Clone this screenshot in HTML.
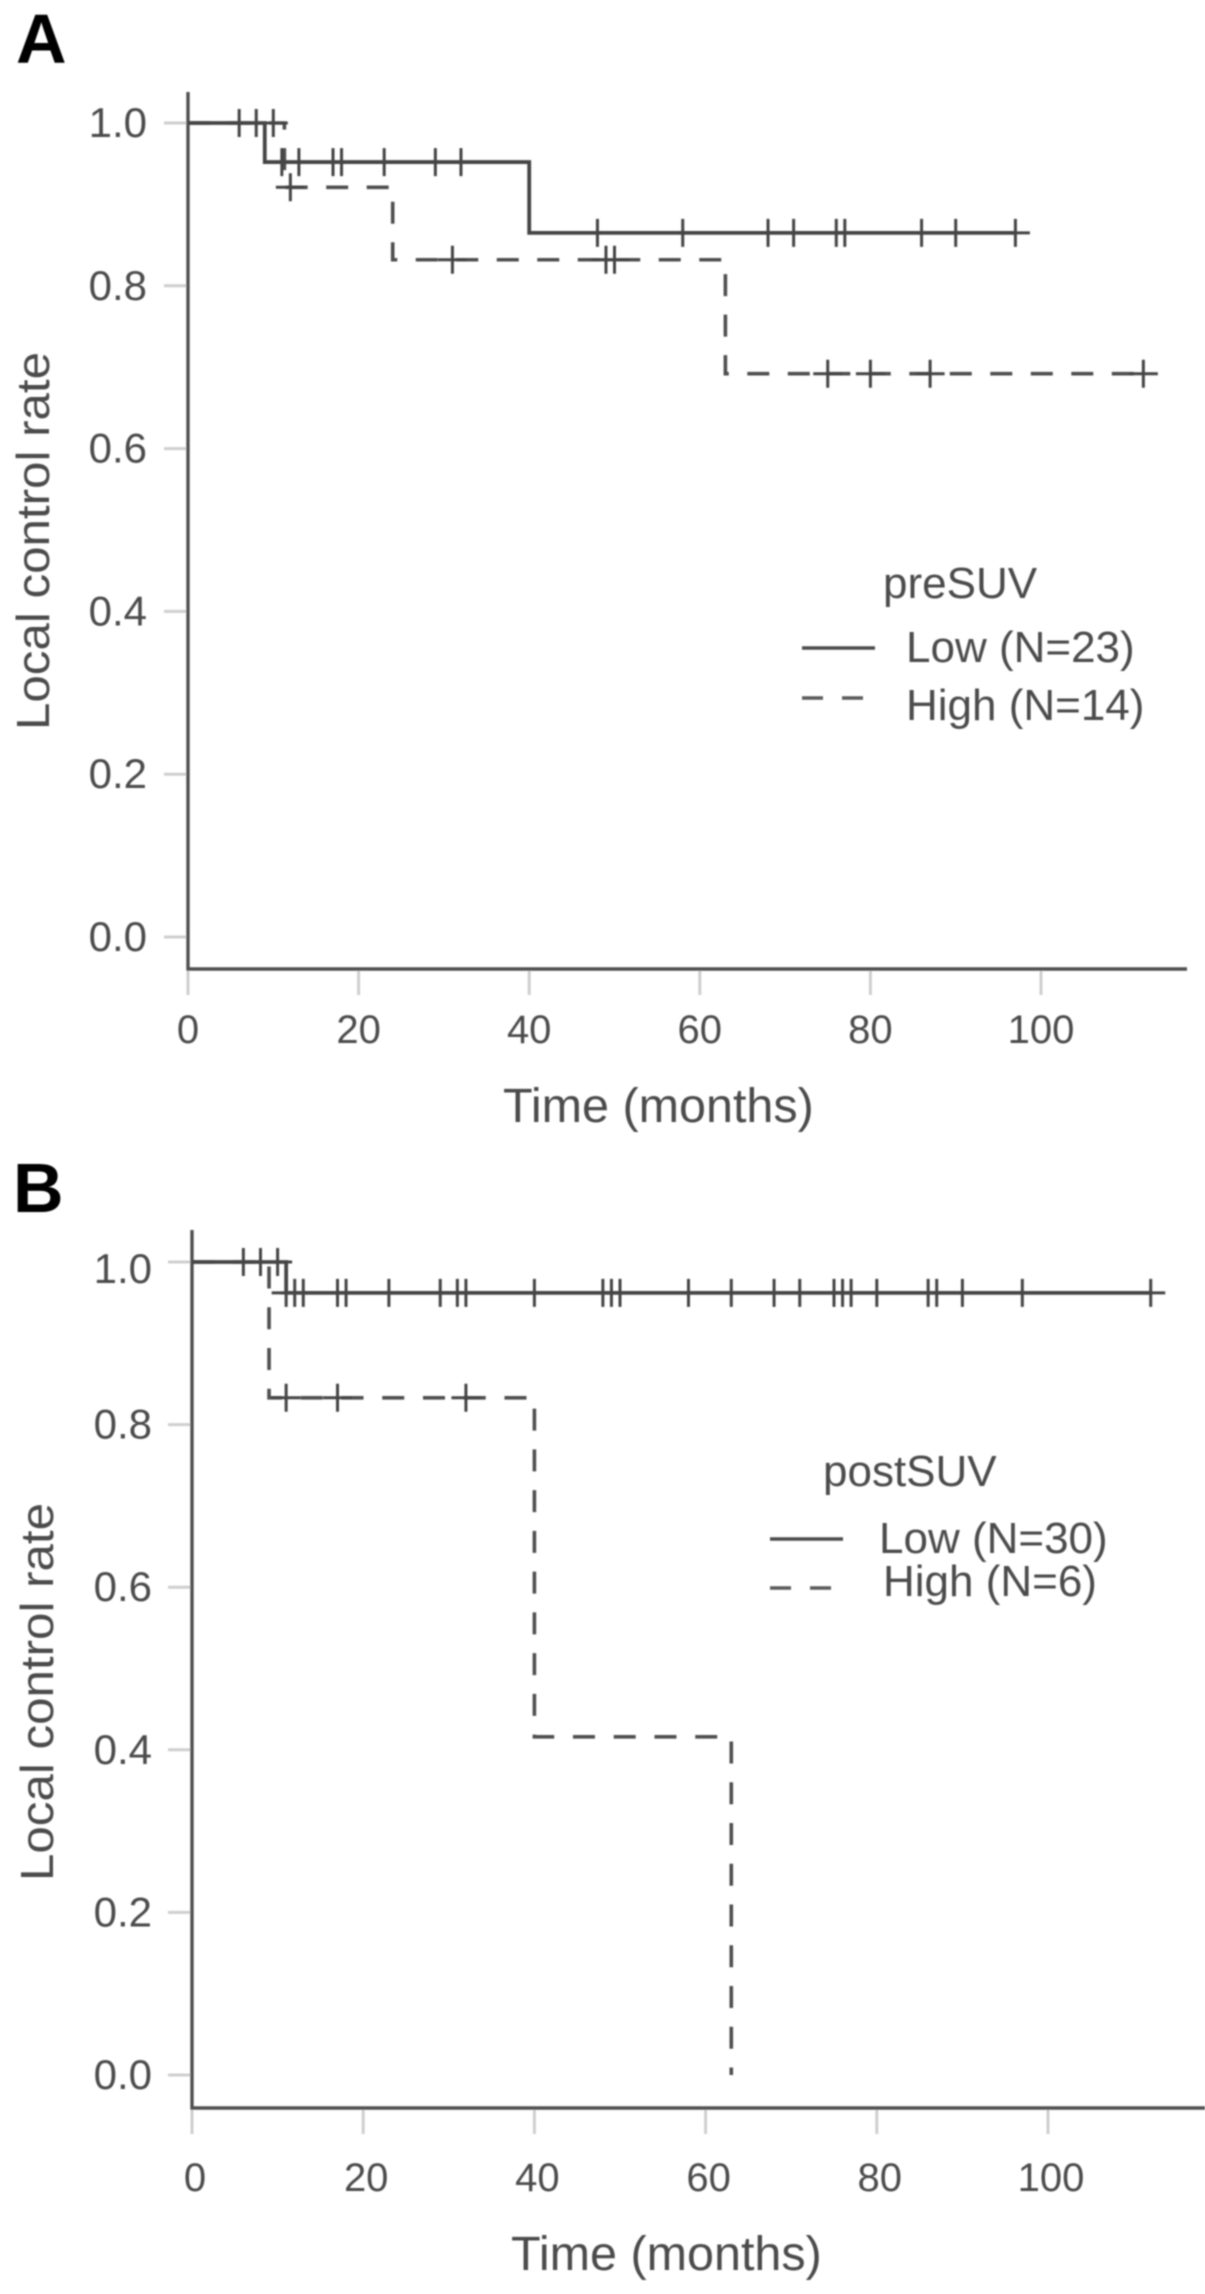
<!DOCTYPE html>
<html lang="en">
<head>
<meta charset="utf-8">
<title>Local control rate by preSUV and postSUV</title>
<style>
html,body{margin:0;padding:0;background:#fff;}
svg{display:block;}
text{font-family:"Liberation Sans",sans-serif;fill:#4c4c4c;}
</style>
</head>
<body>
<svg id="figure" xmlns="http://www.w3.org/2000/svg" width="1205" height="2294" viewBox="0 0 1205 2294">
  <defs>
    <filter id="soft" x="-2%" y="-2%" width="104%" height="104%"><feGaussianBlur stdDeviation="0.7"/></filter>
  </defs>
  <rect width="1205" height="2294" fill="#ffffff"/>
  <g id="root" filter="url(#soft)">
    <text x="16" y="63" font-size="70" font-weight="700" style="fill:#000">A</text>
    <text x="13" y="1212" font-size="70" font-weight="700" style="fill:#000">B</text>

    <text transform="translate(49,730) rotate(-90)" font-size="46" textLength="378" lengthAdjust="spacingAndGlyphs">Local control rate</text>
    <text transform="translate(53,1881) rotate(-90)" font-size="46" textLength="378" lengthAdjust="spacingAndGlyphs">Local control rate</text>
    <text x="503" y="1122" font-size="48.5">Time (months)</text>
    <text x="511" y="2270" font-size="48.5">Time (months)</text>

    <g id="panel-a"></g>
    <g id="panel-b"></g>

    <g>
      <text x="883" y="598" font-size="44">preSUV</text>
      <line x1="802" x2="875" y1="648" y2="648" stroke="#4c4c4c" stroke-width="3.6"/>
      <text x="906" y="662" font-size="44">Low (N=23)</text>
      <line x1="802" x2="863" y1="698" y2="698" stroke="#5a5a5a" stroke-width="3.6" stroke-dasharray="21 19"/>
      <text x="906" y="720" font-size="44">High (N=14)</text>
    </g>
    <g>
      <text x="823" y="1486" font-size="44">postSUV</text>
      <line x1="770" x2="843" y1="1539" y2="1539" stroke="#4c4c4c" stroke-width="3.6"/>
      <text x="879" y="1553" font-size="44">Low (N=30)</text>
      <line x1="770" x2="832" y1="1588" y2="1588" stroke="#5a5a5a" stroke-width="3.6" stroke-dasharray="21 19"/>
      <text x="883" y="1596" font-size="44">High (N=6)</text>
    </g>
  </g>
</svg>
<script>
// Shared tick labels
const xTickValues = [0, 20, 40, 60, 80, 100];
const yTickValues = [0, 0.2, 0.4, 0.6, 0.8, 1.0];

// Panel A: preSUV
const aLowTimes = [0, 9, 40, 97];
const aLowSurvival = [1, 0.952, 0.865, 0.865];
const aLowCensored = [6, 8, 11, 13, 17, 18, 23, 29, 32, 48, 58, 68, 71, 76, 77, 86, 90, 97];
const aHighTimes = [0, 11.3, 24, 63, 112];
const aHighSurvival = [1, 0.921, 0.832, 0.692, 0.692];
const aHighCensored = [10, 12, 31, 49, 50, 75, 80, 87, 112];

// Panel B: postSUV
const bLowTimes = [0, 11, 112];
const bLowSurvival = [1, 0.962, 0.962];
const bLowCensored = [6, 8, 10, 11, 12, 13, 17, 18, 23, 29, 31, 32, 40, 48, 49, 50, 58, 63, 68, 71, 75, 76, 77, 80, 86, 87, 90, 97, 112];
const bHighTimes = [0, 9, 40, 63];
const bHighSurvival = [1, 0.833, 0.416, 0];
const bHighCensored = [11, 17, 32];

const NS = 'http://www.w3.org/2000/svg';
function make(tag, attrs, parent) {
  const node = document.createElementNS(NS, tag);
  for (const k in attrs) node.setAttribute(k, attrs[k]);
  parent.appendChild(node);
  return node;
}
function survivalAt(times, surv, t) {
  let s = surv[0];
  for (let i = 0; i < times.length; i++) if (times[i] <= t) s = surv[i];
  return s;
}
function stepPath(times, surv, sx, sy) {
  let d = 'M' + sx(times[0]) + ' ' + sy(surv[0]);
  for (let i = 1; i < times.length; i++) {
    d += ' L' + sx(times[i]) + ' ' + sy(surv[i - 1]);
    d += ' L' + sx(times[i]) + ' ' + sy(surv[i]);
  }
  return d;
}
function drawSeries(g, prefix, times, surv, censored, dash, sx, sy) {
  const path = make('path', {d: stepPath(times, surv, sx, sy), fill: 'none', stroke: dash ? '#505050' : '#444444', 'stroke-width': dash ? 3.6 : 3.8}, g);
  if (dash) path.setAttribute('stroke-dasharray', dash);
  
  
  censored.forEach(function (t) {
    const cx = sx(t), cy = sy(survivalAt(times, surv, t));
    const mark = make('path', {d: 'M' + (cx - 14.5) + ' ' + cy + ' H' + (cx + 14.5) + ' M' + cx + ' ' + (cy - 14) + ' V' + (cy + 14), fill: 'none', stroke: '#444444', 'stroke-width': 3}, g);
    
    
  });
}
function drawPanel(g, p) {
  const sx = function (t) { return p.x0 + t * p.xScale; };
  const sy = function (s) { return p.y0 - s * p.yScale; };

  xTickValues.forEach(function (v) {
    const tick = make('line', {x1: sx(v), x2: sx(v), y1: p.axisY, y2: p.axisY + 26, stroke: '#cfcfcf', 'stroke-width': 3}, g);
    
    
    const label = make('text', {x: sx(v) + p.xLabelShift, y: p.xLabelY, 'font-size': 40, 'text-anchor': 'middle'}, g);
    label.textContent = String(v);
    
    
  });
  yTickValues.forEach(function (v) {
    const tick = make('line', {x1: p.x0 - 24, x2: p.x0, y1: sy(v), y2: sy(v), stroke: '#cfcfcf', 'stroke-width': 3}, g);
    
    
    const label = make('text', {x: p.yLabelX, y: sy(v) + 14 + (v === 1 ? p.topLabelShift : 0), 'font-size': 42, 'text-anchor': 'end'}, g);
    label.textContent = v.toFixed(1);
    
    
  });

  const yAxis = make('line', {x1: p.x0, x2: p.x0, y1: p.axisTop, y2: p.axisY + 1.5, stroke: '#505050', 'stroke-width': 3.4}, g);
  
  
  const xAxis = make('line', {x1: p.x0 - 1.5, x2: p.axisRight, y1: p.axisY, y2: p.axisY, stroke: '#505050', 'stroke-width': 3.4}, g);
  
  

  drawSeries(g, 'high-group', p.highT, p.highS, p.highC, p.dash, sx, sy);
  drawSeries(g, 'low-group', p.lowT, p.lowS, p.lowC, null, sx, sy);
}

drawPanel(document.getElementById('panel-a'), {
  x0: 188, xScale: 8.53, y0: 937, yScale: 814, axisY: 969, axisTop: 92, axisRight: 1187,
  xLabelY: 1043, xLabelShift: 0, yLabelX: 147, topLabelShift: 0, dash: '22 18.5',
  lowT: aLowTimes, lowS: aLowSurvival, lowC: aLowCensored,
  highT: aHighTimes, highS: aHighSurvival, highC: aHighCensored
});
drawPanel(document.getElementById('panel-b'), {
  x0: 192, xScale: 8.56, y0: 2075, yScale: 813, axisY: 2108, axisTop: 1230, axisRight: 1205,
  xLabelY: 2191, xLabelShift: 3, yLabelX: 152, topLabelShift: 7, dash: '22 18.75',
  lowT: bLowTimes, lowS: bLowSurvival, lowC: bLowCensored,
  highT: bHighTimes, highS: bHighSurvival, highC: bHighCensored
});
</script>
</body>
</html>
